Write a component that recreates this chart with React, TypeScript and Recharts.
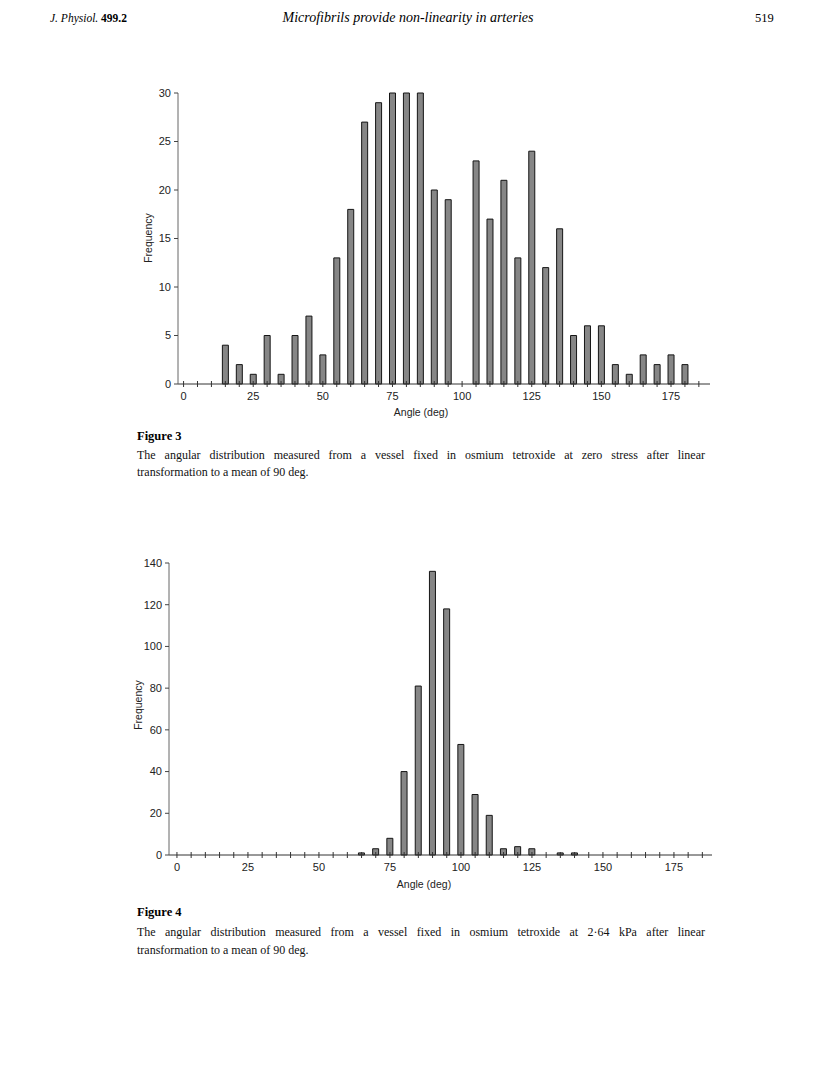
import { BarChart, Bar, XAxis, YAxis } from "recharts";

// Figure 3: zero stress
const fig3Angles = [15, 20, 25, 30, 35, 40, 45, 50, 55, 60, 65, 70, 75, 80, 85, 90, 95, 100, 105, 110, 115, 120, 125, 130, 135, 140, 145, 150, 155, 160, 165, 170, 175, 180];
const fig3Counts = [4, 2, 1, 5, 1, 5, 7, 3, 13, 18, 27, 29, 30, 30, 30, 20, 19, 0, 23, 17, 21, 13, 24, 12, 16, 5, 6, 6, 2, 1, 3, 2, 3, 2];

// Figure 4: 2.64 kPa
const fig4Angles = [65, 70, 75, 80, 85, 90, 95, 100, 105, 110, 115, 120, 125, 130, 135, 140];
const fig4Counts = [1, 3, 8, 40, 81, 136, 118, 53, 29, 19, 3, 4, 3, 0, 1, 1];

const angleTicks = [0, 5, 10, 15, 20, 25, 30, 35, 40, 45, 50, 55, 60, 65, 70, 75, 80, 85, 90, 95, 100, 105, 110, 115, 120, 125, 130, 135, 140, 145, 150, 155, 160, 165, 170, 175, 180, 185];
const angleLabels = [0, 25, 50, 75, 100, 125, 150, 175];
const fig3FreqTicks = [0, 5, 10, 15, 20, 25, 30];
const fig4FreqTicks = [0, 20, 40, 60, 80, 100, 120, 140];

const SANS = "'Liberation Sans', Arial, sans-serif";
const SERIF = "'Liberation Serif', 'Times New Roman', serif";

const AngleTick = (props: any) => {
  const { x, y, payload } = props;
  const v = payload.value;
  return (
    <g>
      <line x1={x} x2={x} y1={y - 3} y2={y + 3} stroke="#333" strokeWidth={1} />
      {angleLabels.includes(v) && (
        <text x={x} y={y + 16} textAnchor="middle" fontSize={11} fill="#222" fontFamily={SANS}>
          {v}
        </text>
      )}
    </g>
  );
};

const Histogram = ({
  angles,
  counts,
  yTicks,
  yMax,
  xDomain,
  top,
  height,
  margin,
}: {
  angles: number[];
  counts: number[];
  yTicks: number[];
  yMax: number;
  xDomain: [number, number];
  top: number;
  height: number;
  margin: { top: number; left: number; right: number; bottom: number };
}) => {
  const data = angles.map((angle, i) => ({ angle, count: counts[i] }));
  return (
    <div style={{ position: "absolute", left: 0, top }}>
      <BarChart width={816} height={height} data={data} margin={margin}>
        <XAxis
          dataKey="angle"
          type="number"
          domain={xDomain}
          ticks={angleTicks}
          interval={0}
          height={30}
          tickSize={0}
          tickMargin={0}
          tick={<AngleTick />}
          axisLine={{ stroke: "#333", strokeWidth: 1 }}
          allowDataOverflow
        />
        <YAxis
          type="number"
          domain={[0, yMax]}
          ticks={yTicks}
          interval={0}
          width={40}
          tickSize={4}
          tickMargin={3}
          axisLine={{ stroke: "#666", strokeWidth: 1 }}
          tickLine={{ stroke: "#444" }}
          tick={{ fontSize: 11, fill: "#222", fontFamily: SANS }}
        />
        <Bar
          dataKey="count"
          barSize={6}
          fill="#868686"
          stroke="#151515"
          strokeWidth={1}
          isAnimationActive={false}
        />
      </BarChart>
    </div>
  );
};

const AxisTitle = ({ x, y, text, rotate }: { x: number; y: number; text: string; rotate?: boolean }) => (
  <div
    style={{
      position: "absolute",
      left: x,
      top: y,
      transform: `translate(-50%, -50%)${rotate ? " rotate(-90deg)" : ""}`,
      whiteSpace: "nowrap",
      fontFamily: SANS,
      fontSize: 10.5,
      color: "#222",
    }}
  >
    {text}
  </div>
);

const captionLine = (top: number, text: string, justify: boolean) => (
  <div
    style={{
      position: "absolute",
      left: 137,
      top,
      width: 568,
      fontFamily: SERIF,
      fontSize: 12,
      lineHeight: "16px",
      color: "#111",
      textAlign: justify ? "justify" : "left",
      textAlignLast: justify ? "justify" : "left",
      whiteSpace: "nowrap",
    }}
  >
    {text}
  </div>
);

export default function App() {
  return (
    <div style={{ position: "absolute", left: 0, top: 0, width: 816, height: 1088, background: "#fff", overflow: "hidden" }}>
      {/* page header */}
      <div style={{ position: "absolute", left: 50, top: 10, fontFamily: SERIF, fontSize: 11.5, fontStyle: "italic", lineHeight: "16px" }}>
        J. Physiol. <b style={{ fontStyle: "normal" }}>499.2</b>
      </div>
      <div style={{ position: "absolute", left: 0, top: 9, width: 816, textAlign: "center", fontFamily: SERIF, fontSize: 14, fontStyle: "italic", lineHeight: "18px" }}>
        Microfibrils provide non-linearity in arteries
      </div>
      <div style={{ position: "absolute", left: 755, top: 10, fontFamily: SERIF, fontSize: 12.5, lineHeight: "16px" }}>519</div>

      {/* Figure 3 */}
      <Histogram
        angles={fig3Angles}
        counts={fig3Counts}
        yTicks={fig3FreqTicks}
        yMax={30}
        xDomain={[-2, 189]}
        top={0}
        height={430}
        margin={{ top: 93, left: 138, right: 106, bottom: 16 }}
      />
      <AxisTitle x={148} y={238} text="Frequency" rotate />
      <AxisTitle x={421} y={412} text="Angle (deg)" />
      <div style={{ position: "absolute", left: 137, top: 428, fontFamily: SERIF, fontSize: 12.5, fontWeight: "bold", lineHeight: "16px" }}>Figure 3</div>
      {captionLine(447, "The angular distribution measured from a vessel fixed in osmium tetroxide at zero stress after linear", true)}
      {captionLine(464, "transformation to a mean of 90 deg.", false)}

      {/* Figure 4 */}
      <Histogram
        angles={fig4Angles}
        counts={fig4Counts}
        yTicks={fig4FreqTicks}
        yMax={140}
        xDomain={[-2.8, 188.4]}
        top={520}
        height={380}
        margin={{ top: 43, left: 129, right: 104, bottom: 15 }}
      />
      <AxisTitle x={138} y={705} text="Frequency" rotate />
      <AxisTitle x={424} y={884} text="Angle (deg)" />
      <div style={{ position: "absolute", left: 137, top: 904, fontFamily: SERIF, fontSize: 12.5, fontWeight: "bold", lineHeight: "16px" }}>Figure 4</div>
      {captionLine(924, "The angular distribution measured from a vessel fixed in osmium tetroxide at 2\u00b764 kPa after linear", true)}
      {captionLine(942, "transformation to a mean of 90 deg.", false)}
    </div>
  );
}
